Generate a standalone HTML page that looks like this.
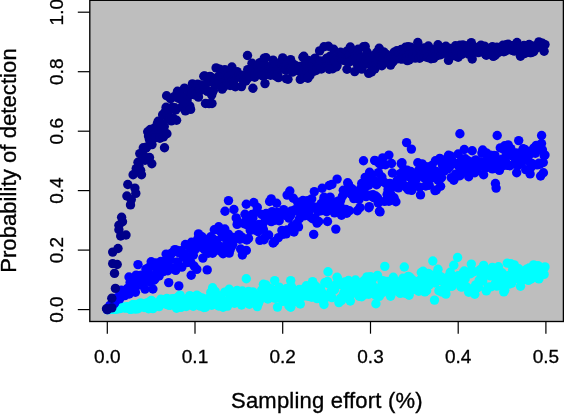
<!DOCTYPE html>
<html><head><meta charset="utf-8"><title>plot</title>
<style>
html,body{margin:0;padding:0;background:#fff;}
svg{display:block;font-family:"Liberation Sans",sans-serif;}
</style></head><body>
<svg width="564" height="414" viewBox="0 0 564 414">
<rect x="0" y="0" width="564" height="414" fill="#fff"/>
<rect x="89.8" y="0.3" width="473.6" height="321.2" fill="#bebebe"/>
<clipPath id="c"><rect x="89.8" y="0.3" width="473.6" height="321.2"/></clipPath>
<g clip-path="url(#c)">
<g fill="#00ffff">
<circle cx="107.3" cy="309.6" r="4.7"/>
<circle cx="108.2" cy="309.5" r="4.7"/>
<circle cx="109.1" cy="309.3" r="4.7"/>
<circle cx="109.9" cy="309.5" r="4.7"/>
<circle cx="110.8" cy="309.1" r="4.7"/>
<circle cx="111.7" cy="309.0" r="4.7"/>
<circle cx="112.6" cy="309.1" r="4.7"/>
<circle cx="113.4" cy="308.8" r="4.7"/>
<circle cx="114.3" cy="309.1" r="4.7"/>
<circle cx="115.2" cy="309.1" r="4.7"/>
<circle cx="116.1" cy="308.8" r="4.7"/>
<circle cx="116.9" cy="309.1" r="4.7"/>
<circle cx="117.8" cy="307.9" r="4.7"/>
<circle cx="118.7" cy="308.2" r="4.7"/>
<circle cx="119.6" cy="308.6" r="4.7"/>
<circle cx="120.5" cy="308.1" r="4.7"/>
<circle cx="121.3" cy="307.0" r="4.7"/>
<circle cx="122.2" cy="307.0" r="4.7"/>
<circle cx="123.1" cy="307.6" r="4.7"/>
<circle cx="124.0" cy="307.4" r="4.7"/>
<circle cx="124.8" cy="308.0" r="4.7"/>
<circle cx="125.7" cy="307.7" r="4.7"/>
<circle cx="126.6" cy="306.8" r="4.7"/>
<circle cx="127.5" cy="307.5" r="4.7"/>
<circle cx="128.4" cy="306.9" r="4.7"/>
<circle cx="129.2" cy="308.6" r="4.7"/>
<circle cx="130.1" cy="309.3" r="4.7"/>
<circle cx="131.0" cy="309.4" r="4.7"/>
<circle cx="131.9" cy="307.5" r="4.7"/>
<circle cx="132.7" cy="304.7" r="4.7"/>
<circle cx="133.6" cy="304.7" r="4.7"/>
<circle cx="134.5" cy="308.2" r="4.7"/>
<circle cx="135.4" cy="309.1" r="4.7"/>
<circle cx="136.2" cy="304.9" r="4.7"/>
<circle cx="137.1" cy="305.4" r="4.7"/>
<circle cx="138.0" cy="308.7" r="4.7"/>
<circle cx="138.9" cy="303.9" r="4.7"/>
<circle cx="139.8" cy="305.5" r="4.7"/>
<circle cx="140.6" cy="303.0" r="4.7"/>
<circle cx="141.5" cy="304.9" r="4.7"/>
<circle cx="142.4" cy="303.6" r="4.7"/>
<circle cx="143.3" cy="304.7" r="4.7"/>
<circle cx="144.1" cy="307.5" r="4.7"/>
<circle cx="145.0" cy="305.8" r="4.7"/>
<circle cx="145.9" cy="306.8" r="4.7"/>
<circle cx="146.8" cy="303.0" r="4.7"/>
<circle cx="147.7" cy="307.4" r="4.7"/>
<circle cx="148.5" cy="308.8" r="4.7"/>
<circle cx="149.4" cy="302.9" r="4.7"/>
<circle cx="150.3" cy="301.5" r="4.7"/>
<circle cx="151.2" cy="300.5" r="4.7"/>
<circle cx="152.0" cy="301.3" r="4.7"/>
<circle cx="152.9" cy="308.6" r="4.7"/>
<circle cx="153.8" cy="306.2" r="4.7"/>
<circle cx="154.7" cy="305.7" r="4.7"/>
<circle cx="155.5" cy="304.0" r="4.7"/>
<circle cx="156.4" cy="304.5" r="4.7"/>
<circle cx="157.3" cy="303.8" r="4.7"/>
<circle cx="158.2" cy="302.7" r="4.7"/>
<circle cx="159.1" cy="306.6" r="4.7"/>
<circle cx="159.9" cy="303.0" r="4.7"/>
<circle cx="160.8" cy="299.3" r="4.7"/>
<circle cx="161.7" cy="303.1" r="4.7"/>
<circle cx="162.6" cy="299.6" r="4.7"/>
<circle cx="163.4" cy="299.6" r="4.7"/>
<circle cx="164.3" cy="301.6" r="4.7"/>
<circle cx="165.2" cy="301.7" r="4.7"/>
<circle cx="166.1" cy="304.3" r="4.7"/>
<circle cx="166.9" cy="298.4" r="4.7"/>
<circle cx="167.8" cy="304.5" r="4.7"/>
<circle cx="168.7" cy="305.3" r="4.7"/>
<circle cx="169.6" cy="300.1" r="4.7"/>
<circle cx="170.5" cy="305.3" r="4.7"/>
<circle cx="171.3" cy="301.0" r="4.7"/>
<circle cx="172.2" cy="298.6" r="4.7"/>
<circle cx="173.1" cy="302.2" r="4.7"/>
<circle cx="174.0" cy="302.0" r="4.7"/>
<circle cx="174.8" cy="298.8" r="4.7"/>
<circle cx="175.7" cy="299.4" r="4.7"/>
<circle cx="176.6" cy="308.2" r="4.7"/>
<circle cx="177.5" cy="307.3" r="4.7"/>
<circle cx="178.4" cy="296.8" r="4.7"/>
<circle cx="179.2" cy="300.5" r="4.7"/>
<circle cx="180.1" cy="295.1" r="4.7"/>
<circle cx="181.0" cy="307.4" r="4.7"/>
<circle cx="181.9" cy="301.8" r="4.7"/>
<circle cx="182.7" cy="305.8" r="4.7"/>
<circle cx="183.6" cy="299.8" r="4.7"/>
<circle cx="184.5" cy="301.3" r="4.7"/>
<circle cx="185.4" cy="299.6" r="4.7"/>
<circle cx="186.2" cy="306.5" r="4.7"/>
<circle cx="187.1" cy="298.8" r="4.7"/>
<circle cx="188.0" cy="301.0" r="4.7"/>
<circle cx="188.9" cy="304.8" r="4.7"/>
<circle cx="189.8" cy="295.6" r="4.7"/>
<circle cx="190.6" cy="297.0" r="4.7"/>
<circle cx="191.5" cy="298.3" r="4.7"/>
<circle cx="192.4" cy="301.4" r="4.7"/>
<circle cx="193.3" cy="306.2" r="4.7"/>
<circle cx="194.1" cy="304.9" r="4.7"/>
<circle cx="195.0" cy="297.5" r="4.7"/>
<circle cx="195.9" cy="296.4" r="4.7"/>
<circle cx="196.8" cy="295.2" r="4.7"/>
<circle cx="197.7" cy="296.3" r="4.7"/>
<circle cx="198.5" cy="296.4" r="4.7"/>
<circle cx="199.4" cy="302.6" r="4.7"/>
<circle cx="200.3" cy="306.1" r="4.7"/>
<circle cx="201.2" cy="299.4" r="4.7"/>
<circle cx="202.0" cy="297.9" r="4.7"/>
<circle cx="202.9" cy="299.8" r="4.7"/>
<circle cx="203.8" cy="307.5" r="4.7"/>
<circle cx="204.7" cy="302.6" r="4.7"/>
<circle cx="205.5" cy="307.3" r="4.7"/>
<circle cx="206.4" cy="299.2" r="4.7"/>
<circle cx="207.3" cy="305.1" r="4.7"/>
<circle cx="208.2" cy="300.6" r="4.7"/>
<circle cx="209.1" cy="298.0" r="4.7"/>
<circle cx="209.9" cy="298.9" r="4.7"/>
<circle cx="210.8" cy="292.4" r="4.7"/>
<circle cx="211.7" cy="305.2" r="4.7"/>
<circle cx="212.6" cy="293.7" r="4.7"/>
<circle cx="213.4" cy="294.2" r="4.7"/>
<circle cx="214.3" cy="291.7" r="4.7"/>
<circle cx="215.2" cy="291.4" r="4.7"/>
<circle cx="216.1" cy="297.5" r="4.7"/>
<circle cx="216.9" cy="296.0" r="4.7"/>
<circle cx="217.8" cy="298.2" r="4.7"/>
<circle cx="218.7" cy="306.0" r="4.7"/>
<circle cx="219.6" cy="301.9" r="4.7"/>
<circle cx="220.5" cy="296.0" r="4.7"/>
<circle cx="221.3" cy="301.9" r="4.7"/>
<circle cx="222.2" cy="301.0" r="4.7"/>
<circle cx="223.1" cy="307.2" r="4.7"/>
<circle cx="224.0" cy="300.9" r="4.7"/>
<circle cx="224.8" cy="292.1" r="4.7"/>
<circle cx="225.7" cy="301.8" r="4.7"/>
<circle cx="226.6" cy="304.8" r="4.7"/>
<circle cx="227.5" cy="306.1" r="4.7"/>
<circle cx="228.4" cy="302.4" r="4.7"/>
<circle cx="229.2" cy="289.3" r="4.7"/>
<circle cx="230.1" cy="295.6" r="4.7"/>
<circle cx="231.0" cy="294.9" r="4.7"/>
<circle cx="231.9" cy="301.0" r="4.7"/>
<circle cx="232.7" cy="292.8" r="4.7"/>
<circle cx="233.6" cy="297.1" r="4.7"/>
<circle cx="234.5" cy="303.2" r="4.7"/>
<circle cx="235.4" cy="300.4" r="4.7"/>
<circle cx="236.2" cy="296.3" r="4.7"/>
<circle cx="237.1" cy="290.4" r="4.7"/>
<circle cx="238.0" cy="297.8" r="4.7"/>
<circle cx="238.9" cy="294.3" r="4.7"/>
<circle cx="239.8" cy="299.0" r="4.7"/>
<circle cx="240.6" cy="302.2" r="4.7"/>
<circle cx="241.5" cy="305.0" r="4.7"/>
<circle cx="242.4" cy="291.0" r="4.7"/>
<circle cx="243.3" cy="294.3" r="4.7"/>
<circle cx="244.1" cy="297.6" r="4.7"/>
<circle cx="245.0" cy="295.3" r="4.7"/>
<circle cx="245.9" cy="299.0" r="4.7"/>
<circle cx="246.8" cy="293.5" r="4.7"/>
<circle cx="247.7" cy="298.9" r="4.7"/>
<circle cx="248.5" cy="291.5" r="4.7"/>
<circle cx="249.4" cy="304.3" r="4.7"/>
<circle cx="250.3" cy="301.9" r="4.7"/>
<circle cx="251.2" cy="295.7" r="4.7"/>
<circle cx="252.0" cy="299.6" r="4.7"/>
<circle cx="252.9" cy="291.9" r="4.7"/>
<circle cx="253.8" cy="296.7" r="4.7"/>
<circle cx="254.7" cy="300.0" r="4.7"/>
<circle cx="255.5" cy="295.0" r="4.7"/>
<circle cx="256.4" cy="299.8" r="4.7"/>
<circle cx="257.3" cy="306.6" r="4.7"/>
<circle cx="258.2" cy="303.8" r="4.7"/>
<circle cx="259.1" cy="301.6" r="4.7"/>
<circle cx="259.9" cy="299.4" r="4.7"/>
<circle cx="260.8" cy="295.6" r="4.7"/>
<circle cx="261.7" cy="290.1" r="4.7"/>
<circle cx="262.6" cy="292.5" r="4.7"/>
<circle cx="263.4" cy="284.3" r="4.7"/>
<circle cx="264.3" cy="287.6" r="4.7"/>
<circle cx="265.2" cy="297.3" r="4.7"/>
<circle cx="266.1" cy="285.0" r="4.7"/>
<circle cx="267.0" cy="288.1" r="4.7"/>
<circle cx="267.8" cy="299.0" r="4.7"/>
<circle cx="268.7" cy="293.9" r="4.7"/>
<circle cx="269.6" cy="288.6" r="4.7"/>
<circle cx="270.5" cy="294.3" r="4.7"/>
<circle cx="271.3" cy="289.0" r="4.7"/>
<circle cx="272.2" cy="293.2" r="4.7"/>
<circle cx="273.1" cy="291.1" r="4.7"/>
<circle cx="274.0" cy="297.9" r="4.7"/>
<circle cx="274.8" cy="293.2" r="4.7"/>
<circle cx="275.7" cy="298.2" r="4.7"/>
<circle cx="276.6" cy="291.1" r="4.7"/>
<circle cx="277.5" cy="307.1" r="4.7"/>
<circle cx="278.4" cy="293.4" r="4.7"/>
<circle cx="279.2" cy="287.1" r="4.7"/>
<circle cx="280.1" cy="291.7" r="4.7"/>
<circle cx="281.0" cy="295.7" r="4.7"/>
<circle cx="281.9" cy="291.9" r="4.7"/>
<circle cx="282.7" cy="301.3" r="4.7"/>
<circle cx="283.6" cy="301.1" r="4.7"/>
<circle cx="284.5" cy="297.8" r="4.7"/>
<circle cx="285.4" cy="296.3" r="4.7"/>
<circle cx="286.2" cy="288.7" r="4.7"/>
<circle cx="287.1" cy="301.3" r="4.7"/>
<circle cx="288.0" cy="288.3" r="4.7"/>
<circle cx="288.9" cy="305.7" r="4.7"/>
<circle cx="289.8" cy="300.3" r="4.7"/>
<circle cx="290.6" cy="295.1" r="4.7"/>
<circle cx="291.5" cy="286.9" r="4.7"/>
<circle cx="292.4" cy="298.8" r="4.7"/>
<circle cx="293.3" cy="295.4" r="4.7"/>
<circle cx="294.1" cy="291.6" r="4.7"/>
<circle cx="295.0" cy="294.6" r="4.7"/>
<circle cx="295.9" cy="301.7" r="4.7"/>
<circle cx="296.8" cy="301.3" r="4.7"/>
<circle cx="297.7" cy="298.9" r="4.7"/>
<circle cx="298.5" cy="293.4" r="4.7"/>
<circle cx="299.4" cy="289.4" r="4.7"/>
<circle cx="300.3" cy="304.0" r="4.7"/>
<circle cx="301.2" cy="292.7" r="4.7"/>
<circle cx="302.0" cy="294.0" r="4.7"/>
<circle cx="302.9" cy="296.2" r="4.7"/>
<circle cx="303.8" cy="288.9" r="4.7"/>
<circle cx="304.7" cy="292.7" r="4.7"/>
<circle cx="305.5" cy="295.8" r="4.7"/>
<circle cx="306.4" cy="285.7" r="4.7"/>
<circle cx="307.3" cy="295.7" r="4.7"/>
<circle cx="308.2" cy="295.8" r="4.7"/>
<circle cx="309.1" cy="296.4" r="4.7"/>
<circle cx="309.9" cy="295.2" r="4.7"/>
<circle cx="310.8" cy="288.2" r="4.7"/>
<circle cx="311.7" cy="297.2" r="4.7"/>
<circle cx="312.6" cy="281.6" r="4.7"/>
<circle cx="313.4" cy="293.1" r="4.7"/>
<circle cx="314.3" cy="293.5" r="4.7"/>
<circle cx="315.2" cy="285.8" r="4.7"/>
<circle cx="316.1" cy="292.3" r="4.7"/>
<circle cx="317.0" cy="298.6" r="4.7"/>
<circle cx="317.8" cy="288.0" r="4.7"/>
<circle cx="318.7" cy="291.9" r="4.7"/>
<circle cx="319.6" cy="292.0" r="4.7"/>
<circle cx="320.5" cy="289.1" r="4.7"/>
<circle cx="321.3" cy="295.9" r="4.7"/>
<circle cx="322.2" cy="292.9" r="4.7"/>
<circle cx="323.1" cy="301.0" r="4.7"/>
<circle cx="324.0" cy="304.5" r="4.7"/>
<circle cx="324.8" cy="282.7" r="4.7"/>
<circle cx="325.7" cy="297.8" r="4.7"/>
<circle cx="326.6" cy="296.2" r="4.7"/>
<circle cx="327.5" cy="281.5" r="4.7"/>
<circle cx="328.4" cy="283.7" r="4.7"/>
<circle cx="329.2" cy="294.7" r="4.7"/>
<circle cx="330.1" cy="294.7" r="4.7"/>
<circle cx="331.0" cy="291.5" r="4.7"/>
<circle cx="331.9" cy="297.6" r="4.7"/>
<circle cx="332.7" cy="286.9" r="4.7"/>
<circle cx="333.6" cy="289.7" r="4.7"/>
<circle cx="334.5" cy="289.7" r="4.7"/>
<circle cx="335.4" cy="285.2" r="4.7"/>
<circle cx="336.2" cy="285.4" r="4.7"/>
<circle cx="337.1" cy="277.3" r="4.7"/>
<circle cx="338.0" cy="279.5" r="4.7"/>
<circle cx="338.9" cy="302.6" r="4.7"/>
<circle cx="339.8" cy="283.8" r="4.7"/>
<circle cx="340.6" cy="298.2" r="4.7"/>
<circle cx="341.5" cy="300.4" r="4.7"/>
<circle cx="342.4" cy="284.9" r="4.7"/>
<circle cx="343.3" cy="295.1" r="4.7"/>
<circle cx="344.1" cy="292.2" r="4.7"/>
<circle cx="345.0" cy="282.0" r="4.7"/>
<circle cx="345.9" cy="294.6" r="4.7"/>
<circle cx="346.8" cy="296.3" r="4.7"/>
<circle cx="347.7" cy="287.2" r="4.7"/>
<circle cx="348.5" cy="280.5" r="4.7"/>
<circle cx="349.4" cy="285.6" r="4.7"/>
<circle cx="350.3" cy="301.0" r="4.7"/>
<circle cx="351.2" cy="294.2" r="4.7"/>
<circle cx="352.0" cy="290.4" r="4.7"/>
<circle cx="352.9" cy="284.3" r="4.7"/>
<circle cx="353.8" cy="282.5" r="4.7"/>
<circle cx="354.7" cy="282.7" r="4.7"/>
<circle cx="355.5" cy="280.0" r="4.7"/>
<circle cx="356.4" cy="291.3" r="4.7"/>
<circle cx="357.3" cy="285.3" r="4.7"/>
<circle cx="358.2" cy="285.1" r="4.7"/>
<circle cx="359.1" cy="296.2" r="4.7"/>
<circle cx="359.9" cy="288.8" r="4.7"/>
<circle cx="360.8" cy="284.3" r="4.7"/>
<circle cx="361.7" cy="296.8" r="4.7"/>
<circle cx="362.6" cy="282.3" r="4.7"/>
<circle cx="363.4" cy="282.6" r="4.7"/>
<circle cx="364.3" cy="280.4" r="4.7"/>
<circle cx="365.2" cy="294.3" r="4.7"/>
<circle cx="366.1" cy="287.4" r="4.7"/>
<circle cx="367.0" cy="276.9" r="4.7"/>
<circle cx="367.8" cy="281.9" r="4.7"/>
<circle cx="368.7" cy="294.2" r="4.7"/>
<circle cx="369.6" cy="286.2" r="4.7"/>
<circle cx="370.5" cy="276.7" r="4.7"/>
<circle cx="371.3" cy="288.4" r="4.7"/>
<circle cx="372.2" cy="284.7" r="4.7"/>
<circle cx="373.1" cy="278.2" r="4.7"/>
<circle cx="374.0" cy="287.8" r="4.7"/>
<circle cx="374.8" cy="288.3" r="4.7"/>
<circle cx="375.7" cy="295.3" r="4.7"/>
<circle cx="376.6" cy="292.5" r="4.7"/>
<circle cx="377.5" cy="275.4" r="4.7"/>
<circle cx="378.4" cy="288.2" r="4.7"/>
<circle cx="379.2" cy="296.4" r="4.7"/>
<circle cx="380.1" cy="294.3" r="4.7"/>
<circle cx="381.0" cy="286.8" r="4.7"/>
<circle cx="381.9" cy="280.7" r="4.7"/>
<circle cx="382.7" cy="292.5" r="4.7"/>
<circle cx="383.6" cy="280.9" r="4.7"/>
<circle cx="384.5" cy="290.3" r="4.7"/>
<circle cx="385.4" cy="283.6" r="4.7"/>
<circle cx="386.2" cy="282.2" r="4.7"/>
<circle cx="387.1" cy="281.4" r="4.7"/>
<circle cx="388.0" cy="289.6" r="4.7"/>
<circle cx="388.9" cy="287.4" r="4.7"/>
<circle cx="389.8" cy="281.9" r="4.7"/>
<circle cx="390.6" cy="296.2" r="4.7"/>
<circle cx="391.5" cy="284.4" r="4.7"/>
<circle cx="392.4" cy="281.6" r="4.7"/>
<circle cx="393.3" cy="277.3" r="4.7"/>
<circle cx="394.1" cy="285.9" r="4.7"/>
<circle cx="395.0" cy="287.0" r="4.7"/>
<circle cx="395.9" cy="284.3" r="4.7"/>
<circle cx="396.8" cy="291.2" r="4.7"/>
<circle cx="397.7" cy="286.9" r="4.7"/>
<circle cx="398.5" cy="281.9" r="4.7"/>
<circle cx="399.4" cy="282.8" r="4.7"/>
<circle cx="400.3" cy="293.4" r="4.7"/>
<circle cx="401.2" cy="287.6" r="4.7"/>
<circle cx="402.0" cy="283.7" r="4.7"/>
<circle cx="402.9" cy="278.3" r="4.7"/>
<circle cx="403.8" cy="289.0" r="4.7"/>
<circle cx="404.7" cy="282.7" r="4.7"/>
<circle cx="405.5" cy="293.4" r="4.7"/>
<circle cx="406.4" cy="285.1" r="4.7"/>
<circle cx="407.3" cy="280.8" r="4.7"/>
<circle cx="408.2" cy="276.4" r="4.7"/>
<circle cx="409.1" cy="295.2" r="4.7"/>
<circle cx="409.9" cy="277.3" r="4.7"/>
<circle cx="410.8" cy="285.4" r="4.7"/>
<circle cx="411.7" cy="290.2" r="4.7"/>
<circle cx="412.6" cy="280.0" r="4.7"/>
<circle cx="413.4" cy="286.2" r="4.7"/>
<circle cx="414.3" cy="286.1" r="4.7"/>
<circle cx="415.2" cy="289.3" r="4.7"/>
<circle cx="416.1" cy="281.7" r="4.7"/>
<circle cx="417.0" cy="283.2" r="4.7"/>
<circle cx="417.8" cy="284.8" r="4.7"/>
<circle cx="418.7" cy="291.2" r="4.7"/>
<circle cx="419.6" cy="287.5" r="4.7"/>
<circle cx="420.5" cy="279.8" r="4.7"/>
<circle cx="421.3" cy="272.5" r="4.7"/>
<circle cx="422.2" cy="283.2" r="4.7"/>
<circle cx="423.1" cy="271.2" r="4.7"/>
<circle cx="424.0" cy="282.9" r="4.7"/>
<circle cx="424.8" cy="291.9" r="4.7"/>
<circle cx="425.7" cy="277.4" r="4.7"/>
<circle cx="426.6" cy="290.7" r="4.7"/>
<circle cx="427.5" cy="279.2" r="4.7"/>
<circle cx="428.4" cy="273.4" r="4.7"/>
<circle cx="429.2" cy="285.0" r="4.7"/>
<circle cx="430.1" cy="283.0" r="4.7"/>
<circle cx="431.0" cy="276.3" r="4.7"/>
<circle cx="431.9" cy="280.1" r="4.7"/>
<circle cx="432.7" cy="279.8" r="4.7"/>
<circle cx="433.6" cy="275.3" r="4.7"/>
<circle cx="434.5" cy="282.7" r="4.7"/>
<circle cx="435.4" cy="282.6" r="4.7"/>
<circle cx="436.3" cy="278.5" r="4.7"/>
<circle cx="437.1" cy="273.4" r="4.7"/>
<circle cx="438.0" cy="269.3" r="4.7"/>
<circle cx="438.9" cy="290.7" r="4.7"/>
<circle cx="439.8" cy="290.8" r="4.7"/>
<circle cx="440.6" cy="276.6" r="4.7"/>
<circle cx="441.5" cy="281.0" r="4.7"/>
<circle cx="442.4" cy="292.1" r="4.7"/>
<circle cx="443.3" cy="279.2" r="4.7"/>
<circle cx="444.1" cy="291.0" r="4.7"/>
<circle cx="445.0" cy="287.0" r="4.7"/>
<circle cx="445.9" cy="294.1" r="4.7"/>
<circle cx="446.8" cy="288.1" r="4.7"/>
<circle cx="447.7" cy="277.2" r="4.7"/>
<circle cx="448.5" cy="279.5" r="4.7"/>
<circle cx="449.4" cy="277.8" r="4.7"/>
<circle cx="450.3" cy="272.2" r="4.7"/>
<circle cx="451.2" cy="280.7" r="4.7"/>
<circle cx="452.0" cy="286.2" r="4.7"/>
<circle cx="452.9" cy="282.7" r="4.7"/>
<circle cx="453.8" cy="265.3" r="4.7"/>
<circle cx="454.7" cy="279.7" r="4.7"/>
<circle cx="455.5" cy="277.1" r="4.7"/>
<circle cx="456.4" cy="280.8" r="4.7"/>
<circle cx="457.3" cy="277.6" r="4.7"/>
<circle cx="458.2" cy="275.8" r="4.7"/>
<circle cx="459.1" cy="279.7" r="4.7"/>
<circle cx="459.9" cy="281.0" r="4.7"/>
<circle cx="460.8" cy="286.6" r="4.7"/>
<circle cx="461.7" cy="287.1" r="4.7"/>
<circle cx="462.6" cy="275.8" r="4.7"/>
<circle cx="463.4" cy="272.6" r="4.7"/>
<circle cx="464.3" cy="271.0" r="4.7"/>
<circle cx="465.2" cy="278.7" r="4.7"/>
<circle cx="466.1" cy="286.5" r="4.7"/>
<circle cx="467.0" cy="273.5" r="4.7"/>
<circle cx="467.8" cy="273.6" r="4.7"/>
<circle cx="468.7" cy="292.3" r="4.7"/>
<circle cx="469.6" cy="271.8" r="4.7"/>
<circle cx="470.5" cy="273.7" r="4.7"/>
<circle cx="471.3" cy="264.1" r="4.7"/>
<circle cx="472.2" cy="288.7" r="4.7"/>
<circle cx="473.1" cy="289.9" r="4.7"/>
<circle cx="474.0" cy="271.7" r="4.7"/>
<circle cx="474.8" cy="294.3" r="4.7"/>
<circle cx="475.7" cy="284.9" r="4.7"/>
<circle cx="476.6" cy="287.9" r="4.7"/>
<circle cx="477.5" cy="287.2" r="4.7"/>
<circle cx="478.4" cy="287.2" r="4.7"/>
<circle cx="479.2" cy="280.3" r="4.7"/>
<circle cx="480.1" cy="269.7" r="4.7"/>
<circle cx="481.0" cy="274.2" r="4.7"/>
<circle cx="481.9" cy="274.2" r="4.7"/>
<circle cx="482.7" cy="281.0" r="4.7"/>
<circle cx="483.6" cy="265.4" r="4.7"/>
<circle cx="484.5" cy="273.3" r="4.7"/>
<circle cx="485.4" cy="268.7" r="4.7"/>
<circle cx="486.3" cy="290.9" r="4.7"/>
<circle cx="487.1" cy="274.7" r="4.7"/>
<circle cx="488.0" cy="287.3" r="4.7"/>
<circle cx="488.9" cy="274.5" r="4.7"/>
<circle cx="489.8" cy="275.7" r="4.7"/>
<circle cx="490.6" cy="286.9" r="4.7"/>
<circle cx="491.5" cy="275.8" r="4.7"/>
<circle cx="492.4" cy="267.4" r="4.7"/>
<circle cx="493.3" cy="272.9" r="4.7"/>
<circle cx="494.1" cy="272.1" r="4.7"/>
<circle cx="495.0" cy="284.2" r="4.7"/>
<circle cx="495.9" cy="282.6" r="4.7"/>
<circle cx="496.8" cy="286.1" r="4.7"/>
<circle cx="497.7" cy="275.7" r="4.7"/>
<circle cx="498.5" cy="266.8" r="4.7"/>
<circle cx="499.4" cy="273.0" r="4.7"/>
<circle cx="500.3" cy="276.6" r="4.7"/>
<circle cx="501.2" cy="285.8" r="4.7"/>
<circle cx="502.0" cy="272.8" r="4.7"/>
<circle cx="502.9" cy="278.4" r="4.7"/>
<circle cx="503.8" cy="291.9" r="4.7"/>
<circle cx="504.7" cy="290.3" r="4.7"/>
<circle cx="505.5" cy="279.0" r="4.7"/>
<circle cx="506.4" cy="283.3" r="4.7"/>
<circle cx="507.3" cy="263.1" r="4.7"/>
<circle cx="508.2" cy="275.8" r="4.7"/>
<circle cx="509.1" cy="284.1" r="4.7"/>
<circle cx="509.9" cy="279.8" r="4.7"/>
<circle cx="510.8" cy="263.8" r="4.7"/>
<circle cx="511.7" cy="283.1" r="4.7"/>
<circle cx="512.6" cy="270.1" r="4.7"/>
<circle cx="513.4" cy="272.6" r="4.7"/>
<circle cx="514.3" cy="264.9" r="4.7"/>
<circle cx="515.2" cy="271.9" r="4.7"/>
<circle cx="516.1" cy="278.6" r="4.7"/>
<circle cx="517.0" cy="271.9" r="4.7"/>
<circle cx="517.8" cy="275.1" r="4.7"/>
<circle cx="518.7" cy="268.7" r="4.7"/>
<circle cx="519.6" cy="275.9" r="4.7"/>
<circle cx="520.5" cy="286.2" r="4.7"/>
<circle cx="521.3" cy="276.1" r="4.7"/>
<circle cx="522.2" cy="272.4" r="4.7"/>
<circle cx="523.1" cy="279.8" r="4.7"/>
<circle cx="524.0" cy="274.4" r="4.7"/>
<circle cx="524.8" cy="275.0" r="4.7"/>
<circle cx="525.7" cy="274.1" r="4.7"/>
<circle cx="526.6" cy="269.3" r="4.7"/>
<circle cx="527.5" cy="278.5" r="4.7"/>
<circle cx="528.4" cy="280.4" r="4.7"/>
<circle cx="529.2" cy="268.0" r="4.7"/>
<circle cx="530.1" cy="276.7" r="4.7"/>
<circle cx="531.0" cy="279.0" r="4.7"/>
<circle cx="531.9" cy="267.8" r="4.7"/>
<circle cx="532.7" cy="270.1" r="4.7"/>
<circle cx="533.6" cy="264.9" r="4.7"/>
<circle cx="534.5" cy="277.0" r="4.7"/>
<circle cx="535.4" cy="270.0" r="4.7"/>
<circle cx="536.3" cy="269.7" r="4.7"/>
<circle cx="537.1" cy="277.5" r="4.7"/>
<circle cx="538.0" cy="265.6" r="4.7"/>
<circle cx="538.9" cy="278.9" r="4.7"/>
<circle cx="539.8" cy="275.7" r="4.7"/>
<circle cx="540.6" cy="273.7" r="4.7"/>
<circle cx="541.5" cy="274.4" r="4.7"/>
<circle cx="542.4" cy="269.9" r="4.7"/>
<circle cx="543.3" cy="268.8" r="4.7"/>
<circle cx="544.1" cy="274.4" r="4.7"/>
<circle cx="545.0" cy="266.9" r="4.7"/>
<circle cx="246.3" cy="278.8" r="4.7"/>
<circle cx="274.7" cy="280.6" r="4.7"/>
<circle cx="212.6" cy="287.7" r="4.7"/>
<circle cx="457.6" cy="257.5" r="4.7"/>
<circle cx="432.8" cy="261.0" r="4.7"/>
<circle cx="384.8" cy="266.4" r="4.7"/>
<circle cx="404.3" cy="267.0" r="4.7"/>
<circle cx="328.0" cy="271.7" r="4.7"/>
<circle cx="290.7" cy="280.6" r="4.7"/>
<circle cx="290.7" cy="307.2" r="4.7"/>
<circle cx="434.5" cy="300.1" r="4.7"/>
<circle cx="375.9" cy="303.7" r="4.7"/>
</g>
<g fill="#0000ff">
<circle cx="107.3" cy="309.6" r="4.7"/>
<circle cx="108.2" cy="308.6" r="4.7"/>
<circle cx="109.1" cy="307.4" r="4.7"/>
<circle cx="109.9" cy="305.4" r="4.7"/>
<circle cx="110.8" cy="305.9" r="4.7"/>
<circle cx="111.7" cy="304.5" r="4.7"/>
<circle cx="112.6" cy="303.8" r="4.7"/>
<circle cx="113.4" cy="301.7" r="4.7"/>
<circle cx="114.3" cy="303.6" r="4.7"/>
<circle cx="115.2" cy="302.0" r="4.7"/>
<circle cx="116.1" cy="299.9" r="4.7"/>
<circle cx="116.9" cy="297.8" r="4.7"/>
<circle cx="117.8" cy="298.2" r="4.7"/>
<circle cx="118.7" cy="298.6" r="4.7"/>
<circle cx="119.6" cy="298.9" r="4.7"/>
<circle cx="120.5" cy="294.0" r="4.7"/>
<circle cx="121.3" cy="290.1" r="4.7"/>
<circle cx="122.2" cy="292.9" r="4.7"/>
<circle cx="123.1" cy="292.5" r="4.7"/>
<circle cx="124.0" cy="290.8" r="4.7"/>
<circle cx="124.8" cy="295.6" r="4.7"/>
<circle cx="125.7" cy="292.3" r="4.7"/>
<circle cx="126.6" cy="291.5" r="4.7"/>
<circle cx="127.5" cy="288.4" r="4.7"/>
<circle cx="128.4" cy="289.2" r="4.7"/>
<circle cx="129.2" cy="294.0" r="4.7"/>
<circle cx="130.1" cy="282.6" r="4.7"/>
<circle cx="131.0" cy="279.2" r="4.7"/>
<circle cx="131.9" cy="287.9" r="4.7"/>
<circle cx="132.7" cy="284.1" r="4.7"/>
<circle cx="133.6" cy="284.1" r="4.7"/>
<circle cx="134.5" cy="280.9" r="4.7"/>
<circle cx="135.4" cy="292.2" r="4.7"/>
<circle cx="136.2" cy="275.1" r="4.7"/>
<circle cx="137.1" cy="285.8" r="4.7"/>
<circle cx="138.0" cy="275.6" r="4.7"/>
<circle cx="138.9" cy="281.7" r="4.7"/>
<circle cx="139.8" cy="283.8" r="4.7"/>
<circle cx="140.6" cy="281.8" r="4.7"/>
<circle cx="141.5" cy="275.1" r="4.7"/>
<circle cx="142.4" cy="285.1" r="4.7"/>
<circle cx="143.3" cy="281.6" r="4.7"/>
<circle cx="144.1" cy="281.7" r="4.7"/>
<circle cx="145.0" cy="289.1" r="4.7"/>
<circle cx="145.9" cy="269.1" r="4.7"/>
<circle cx="146.8" cy="273.1" r="4.7"/>
<circle cx="147.7" cy="276.5" r="4.7"/>
<circle cx="148.5" cy="267.8" r="4.7"/>
<circle cx="149.4" cy="281.7" r="4.7"/>
<circle cx="150.3" cy="275.0" r="4.7"/>
<circle cx="151.2" cy="261.7" r="4.7"/>
<circle cx="152.0" cy="266.3" r="4.7"/>
<circle cx="152.9" cy="289.0" r="4.7"/>
<circle cx="153.8" cy="280.2" r="4.7"/>
<circle cx="154.7" cy="279.4" r="4.7"/>
<circle cx="155.5" cy="263.0" r="4.7"/>
<circle cx="156.4" cy="274.2" r="4.7"/>
<circle cx="157.3" cy="271.7" r="4.7"/>
<circle cx="158.2" cy="264.7" r="4.7"/>
<circle cx="159.1" cy="276.0" r="4.7"/>
<circle cx="159.9" cy="266.7" r="4.7"/>
<circle cx="160.8" cy="261.5" r="4.7"/>
<circle cx="161.7" cy="263.7" r="4.7"/>
<circle cx="162.6" cy="263.7" r="4.7"/>
<circle cx="163.4" cy="271.6" r="4.7"/>
<circle cx="164.3" cy="261.8" r="4.7"/>
<circle cx="165.2" cy="269.2" r="4.7"/>
<circle cx="166.1" cy="254.1" r="4.7"/>
<circle cx="166.9" cy="266.8" r="4.7"/>
<circle cx="167.8" cy="270.7" r="4.7"/>
<circle cx="168.7" cy="282.6" r="4.7"/>
<circle cx="169.6" cy="267.1" r="4.7"/>
<circle cx="170.5" cy="259.7" r="4.7"/>
<circle cx="171.3" cy="253.4" r="4.7"/>
<circle cx="172.2" cy="252.7" r="4.7"/>
<circle cx="173.1" cy="268.7" r="4.7"/>
<circle cx="174.0" cy="268.5" r="4.7"/>
<circle cx="174.8" cy="249.6" r="4.7"/>
<circle cx="175.7" cy="270.4" r="4.7"/>
<circle cx="176.6" cy="250.3" r="4.7"/>
<circle cx="177.5" cy="261.9" r="4.7"/>
<circle cx="178.4" cy="252.4" r="4.7"/>
<circle cx="179.2" cy="252.5" r="4.7"/>
<circle cx="180.1" cy="251.4" r="4.7"/>
<circle cx="181.0" cy="250.6" r="4.7"/>
<circle cx="181.9" cy="267.1" r="4.7"/>
<circle cx="182.7" cy="254.7" r="4.7"/>
<circle cx="183.6" cy="257.0" r="4.7"/>
<circle cx="184.5" cy="253.8" r="4.7"/>
<circle cx="185.4" cy="244.5" r="4.7"/>
<circle cx="186.2" cy="258.6" r="4.7"/>
<circle cx="187.1" cy="262.5" r="4.7"/>
<circle cx="188.0" cy="262.3" r="4.7"/>
<circle cx="188.9" cy="257.9" r="4.7"/>
<circle cx="189.8" cy="247.1" r="4.7"/>
<circle cx="190.6" cy="262.1" r="4.7"/>
<circle cx="191.5" cy="242.2" r="4.7"/>
<circle cx="192.4" cy="250.4" r="4.7"/>
<circle cx="193.3" cy="255.2" r="4.7"/>
<circle cx="194.1" cy="266.0" r="4.7"/>
<circle cx="195.0" cy="249.7" r="4.7"/>
<circle cx="195.9" cy="244.8" r="4.7"/>
<circle cx="196.8" cy="269.4" r="4.7"/>
<circle cx="197.7" cy="239.0" r="4.7"/>
<circle cx="198.5" cy="233.9" r="4.7"/>
<circle cx="199.4" cy="246.9" r="4.7"/>
<circle cx="200.3" cy="245.0" r="4.7"/>
<circle cx="201.2" cy="246.7" r="4.7"/>
<circle cx="202.0" cy="236.7" r="4.7"/>
<circle cx="202.9" cy="258.1" r="4.7"/>
<circle cx="203.8" cy="248.7" r="4.7"/>
<circle cx="204.7" cy="249.8" r="4.7"/>
<circle cx="205.5" cy="249.4" r="4.7"/>
<circle cx="206.4" cy="241.5" r="4.7"/>
<circle cx="207.3" cy="239.4" r="4.7"/>
<circle cx="208.2" cy="253.3" r="4.7"/>
<circle cx="209.1" cy="244.7" r="4.7"/>
<circle cx="209.9" cy="247.5" r="4.7"/>
<circle cx="210.8" cy="236.7" r="4.7"/>
<circle cx="211.7" cy="248.4" r="4.7"/>
<circle cx="212.6" cy="253.2" r="4.7"/>
<circle cx="213.4" cy="239.2" r="4.7"/>
<circle cx="214.3" cy="229.8" r="4.7"/>
<circle cx="215.2" cy="247.3" r="4.7"/>
<circle cx="216.1" cy="229.5" r="4.7"/>
<circle cx="216.9" cy="240.6" r="4.7"/>
<circle cx="217.8" cy="248.5" r="4.7"/>
<circle cx="218.7" cy="226.8" r="4.7"/>
<circle cx="219.6" cy="250.8" r="4.7"/>
<circle cx="220.5" cy="231.4" r="4.7"/>
<circle cx="221.3" cy="246.8" r="4.7"/>
<circle cx="222.2" cy="236.5" r="4.7"/>
<circle cx="223.1" cy="253.8" r="4.7"/>
<circle cx="224.0" cy="249.3" r="4.7"/>
<circle cx="224.8" cy="229.0" r="4.7"/>
<circle cx="225.7" cy="237.9" r="4.7"/>
<circle cx="226.6" cy="239.1" r="4.7"/>
<circle cx="227.5" cy="243.7" r="4.7"/>
<circle cx="228.4" cy="234.1" r="4.7"/>
<circle cx="229.2" cy="253.1" r="4.7"/>
<circle cx="230.1" cy="249.8" r="4.7"/>
<circle cx="231.0" cy="239.4" r="4.7"/>
<circle cx="231.9" cy="246.1" r="4.7"/>
<circle cx="232.7" cy="244.3" r="4.7"/>
<circle cx="233.6" cy="237.4" r="4.7"/>
<circle cx="234.5" cy="237.7" r="4.7"/>
<circle cx="235.4" cy="238.2" r="4.7"/>
<circle cx="236.2" cy="217.9" r="4.7"/>
<circle cx="237.1" cy="224.4" r="4.7"/>
<circle cx="238.0" cy="221.7" r="4.7"/>
<circle cx="238.9" cy="234.6" r="4.7"/>
<circle cx="239.8" cy="239.3" r="4.7"/>
<circle cx="240.6" cy="249.0" r="4.7"/>
<circle cx="241.5" cy="236.9" r="4.7"/>
<circle cx="242.4" cy="255.0" r="4.7"/>
<circle cx="243.3" cy="238.6" r="4.7"/>
<circle cx="244.1" cy="223.8" r="4.7"/>
<circle cx="245.0" cy="214.3" r="4.7"/>
<circle cx="245.9" cy="220.9" r="4.7"/>
<circle cx="246.8" cy="240.0" r="4.7"/>
<circle cx="247.7" cy="225.1" r="4.7"/>
<circle cx="248.5" cy="238.4" r="4.7"/>
<circle cx="249.4" cy="220.8" r="4.7"/>
<circle cx="250.3" cy="230.4" r="4.7"/>
<circle cx="251.2" cy="219.6" r="4.7"/>
<circle cx="252.0" cy="214.5" r="4.7"/>
<circle cx="252.9" cy="218.1" r="4.7"/>
<circle cx="253.8" cy="202.5" r="4.7"/>
<circle cx="254.7" cy="225.3" r="4.7"/>
<circle cx="255.5" cy="230.3" r="4.7"/>
<circle cx="256.4" cy="212.0" r="4.7"/>
<circle cx="257.3" cy="207.4" r="4.7"/>
<circle cx="258.2" cy="231.6" r="4.7"/>
<circle cx="259.1" cy="224.4" r="4.7"/>
<circle cx="259.9" cy="240.4" r="4.7"/>
<circle cx="260.8" cy="226.6" r="4.7"/>
<circle cx="261.7" cy="214.4" r="4.7"/>
<circle cx="262.6" cy="224.6" r="4.7"/>
<circle cx="263.4" cy="229.5" r="4.7"/>
<circle cx="264.3" cy="238.2" r="4.7"/>
<circle cx="265.2" cy="218.5" r="4.7"/>
<circle cx="266.1" cy="213.5" r="4.7"/>
<circle cx="267.0" cy="215.3" r="4.7"/>
<circle cx="267.8" cy="218.7" r="4.7"/>
<circle cx="268.7" cy="235.0" r="4.7"/>
<circle cx="269.6" cy="201.5" r="4.7"/>
<circle cx="270.5" cy="221.0" r="4.7"/>
<circle cx="271.3" cy="221.6" r="4.7"/>
<circle cx="272.2" cy="211.6" r="4.7"/>
<circle cx="273.1" cy="243.0" r="4.7"/>
<circle cx="274.0" cy="219.7" r="4.7"/>
<circle cx="274.8" cy="220.2" r="4.7"/>
<circle cx="275.7" cy="214.3" r="4.7"/>
<circle cx="276.6" cy="203.2" r="4.7"/>
<circle cx="277.5" cy="212.5" r="4.7"/>
<circle cx="278.4" cy="237.6" r="4.7"/>
<circle cx="279.2" cy="220.8" r="4.7"/>
<circle cx="280.1" cy="214.5" r="4.7"/>
<circle cx="281.0" cy="214.9" r="4.7"/>
<circle cx="281.9" cy="230.4" r="4.7"/>
<circle cx="282.7" cy="234.4" r="4.7"/>
<circle cx="283.6" cy="209.6" r="4.7"/>
<circle cx="284.5" cy="211.6" r="4.7"/>
<circle cx="285.4" cy="215.4" r="4.7"/>
<circle cx="286.2" cy="233.9" r="4.7"/>
<circle cx="287.1" cy="195.1" r="4.7"/>
<circle cx="288.0" cy="213.8" r="4.7"/>
<circle cx="288.9" cy="218.1" r="4.7"/>
<circle cx="289.8" cy="191.0" r="4.7"/>
<circle cx="290.6" cy="215.4" r="4.7"/>
<circle cx="291.5" cy="210.9" r="4.7"/>
<circle cx="292.4" cy="226.0" r="4.7"/>
<circle cx="293.3" cy="198.2" r="4.7"/>
<circle cx="294.1" cy="226.8" r="4.7"/>
<circle cx="295.0" cy="209.7" r="4.7"/>
<circle cx="295.9" cy="210.8" r="4.7"/>
<circle cx="296.8" cy="223.4" r="4.7"/>
<circle cx="297.7" cy="202.2" r="4.7"/>
<circle cx="298.5" cy="226.9" r="4.7"/>
<circle cx="299.4" cy="218.7" r="4.7"/>
<circle cx="300.3" cy="211.4" r="4.7"/>
<circle cx="301.2" cy="215.3" r="4.7"/>
<circle cx="302.0" cy="205.6" r="4.7"/>
<circle cx="302.9" cy="200.5" r="4.7"/>
<circle cx="303.8" cy="213.4" r="4.7"/>
<circle cx="304.7" cy="215.8" r="4.7"/>
<circle cx="305.5" cy="215.3" r="4.7"/>
<circle cx="306.4" cy="213.4" r="4.7"/>
<circle cx="307.3" cy="200.7" r="4.7"/>
<circle cx="308.2" cy="211.3" r="4.7"/>
<circle cx="309.1" cy="204.5" r="4.7"/>
<circle cx="309.9" cy="209.5" r="4.7"/>
<circle cx="310.8" cy="217.2" r="4.7"/>
<circle cx="311.7" cy="198.9" r="4.7"/>
<circle cx="312.6" cy="218.8" r="4.7"/>
<circle cx="313.4" cy="207.5" r="4.7"/>
<circle cx="314.3" cy="191.6" r="4.7"/>
<circle cx="315.2" cy="218.5" r="4.7"/>
<circle cx="316.1" cy="207.3" r="4.7"/>
<circle cx="317.0" cy="223.1" r="4.7"/>
<circle cx="317.8" cy="211.5" r="4.7"/>
<circle cx="318.7" cy="221.5" r="4.7"/>
<circle cx="319.6" cy="209.4" r="4.7"/>
<circle cx="320.5" cy="210.9" r="4.7"/>
<circle cx="321.3" cy="203.6" r="4.7"/>
<circle cx="322.2" cy="188.3" r="4.7"/>
<circle cx="323.1" cy="201.5" r="4.7"/>
<circle cx="324.0" cy="197.3" r="4.7"/>
<circle cx="324.8" cy="204.4" r="4.7"/>
<circle cx="325.7" cy="206.1" r="4.7"/>
<circle cx="326.6" cy="211.8" r="4.7"/>
<circle cx="327.5" cy="221.5" r="4.7"/>
<circle cx="328.4" cy="201.9" r="4.7"/>
<circle cx="329.2" cy="185.5" r="4.7"/>
<circle cx="330.1" cy="197.1" r="4.7"/>
<circle cx="331.0" cy="207.2" r="4.7"/>
<circle cx="331.9" cy="184.4" r="4.7"/>
<circle cx="332.7" cy="205.5" r="4.7"/>
<circle cx="333.6" cy="207.1" r="4.7"/>
<circle cx="334.5" cy="212.9" r="4.7"/>
<circle cx="335.4" cy="210.0" r="4.7"/>
<circle cx="336.2" cy="202.3" r="4.7"/>
<circle cx="337.1" cy="179.1" r="4.7"/>
<circle cx="338.0" cy="201.3" r="4.7"/>
<circle cx="338.9" cy="209.4" r="4.7"/>
<circle cx="339.8" cy="204.7" r="4.7"/>
<circle cx="340.6" cy="200.5" r="4.7"/>
<circle cx="341.5" cy="215.3" r="4.7"/>
<circle cx="342.4" cy="196.3" r="4.7"/>
<circle cx="343.3" cy="190.2" r="4.7"/>
<circle cx="344.1" cy="193.7" r="4.7"/>
<circle cx="345.0" cy="190.6" r="4.7"/>
<circle cx="345.9" cy="209.4" r="4.7"/>
<circle cx="346.8" cy="213.2" r="4.7"/>
<circle cx="347.7" cy="182.7" r="4.7"/>
<circle cx="348.5" cy="184.4" r="4.7"/>
<circle cx="349.4" cy="210.7" r="4.7"/>
<circle cx="350.3" cy="192.7" r="4.7"/>
<circle cx="351.2" cy="194.2" r="4.7"/>
<circle cx="352.0" cy="188.7" r="4.7"/>
<circle cx="352.9" cy="191.8" r="4.7"/>
<circle cx="353.8" cy="198.6" r="4.7"/>
<circle cx="354.7" cy="191.3" r="4.7"/>
<circle cx="355.5" cy="191.4" r="4.7"/>
<circle cx="356.4" cy="193.1" r="4.7"/>
<circle cx="357.3" cy="210.8" r="4.7"/>
<circle cx="358.2" cy="196.3" r="4.7"/>
<circle cx="359.1" cy="199.5" r="4.7"/>
<circle cx="359.9" cy="207.6" r="4.7"/>
<circle cx="360.8" cy="188.5" r="4.7"/>
<circle cx="361.7" cy="183.5" r="4.7"/>
<circle cx="362.6" cy="187.7" r="4.7"/>
<circle cx="363.4" cy="193.7" r="4.7"/>
<circle cx="364.3" cy="189.0" r="4.7"/>
<circle cx="365.2" cy="177.4" r="4.7"/>
<circle cx="366.1" cy="196.6" r="4.7"/>
<circle cx="367.0" cy="179.1" r="4.7"/>
<circle cx="367.8" cy="181.0" r="4.7"/>
<circle cx="368.7" cy="185.3" r="4.7"/>
<circle cx="369.6" cy="172.3" r="4.7"/>
<circle cx="370.5" cy="195.1" r="4.7"/>
<circle cx="371.3" cy="176.9" r="4.7"/>
<circle cx="372.2" cy="196.8" r="4.7"/>
<circle cx="373.1" cy="194.8" r="4.7"/>
<circle cx="374.0" cy="197.8" r="4.7"/>
<circle cx="374.8" cy="180.9" r="4.7"/>
<circle cx="375.7" cy="196.0" r="4.7"/>
<circle cx="376.6" cy="184.7" r="4.7"/>
<circle cx="377.5" cy="197.8" r="4.7"/>
<circle cx="378.4" cy="172.6" r="4.7"/>
<circle cx="379.2" cy="163.4" r="4.7"/>
<circle cx="380.1" cy="181.5" r="4.7"/>
<circle cx="381.0" cy="164.8" r="4.7"/>
<circle cx="381.9" cy="177.0" r="4.7"/>
<circle cx="382.7" cy="157.9" r="4.7"/>
<circle cx="383.6" cy="181.9" r="4.7"/>
<circle cx="384.5" cy="201.4" r="4.7"/>
<circle cx="385.4" cy="164.7" r="4.7"/>
<circle cx="386.2" cy="183.8" r="4.7"/>
<circle cx="387.1" cy="194.6" r="4.7"/>
<circle cx="388.0" cy="189.8" r="4.7"/>
<circle cx="388.9" cy="201.3" r="4.7"/>
<circle cx="389.8" cy="183.4" r="4.7"/>
<circle cx="390.6" cy="193.9" r="4.7"/>
<circle cx="391.5" cy="163.5" r="4.7"/>
<circle cx="392.4" cy="173.0" r="4.7"/>
<circle cx="393.3" cy="199.8" r="4.7"/>
<circle cx="394.1" cy="197.7" r="4.7"/>
<circle cx="395.0" cy="186.6" r="4.7"/>
<circle cx="395.9" cy="201.7" r="4.7"/>
<circle cx="396.8" cy="181.0" r="4.7"/>
<circle cx="397.7" cy="180.1" r="4.7"/>
<circle cx="398.5" cy="187.9" r="4.7"/>
<circle cx="399.4" cy="185.1" r="4.7"/>
<circle cx="400.3" cy="173.6" r="4.7"/>
<circle cx="401.2" cy="163.6" r="4.7"/>
<circle cx="402.0" cy="162.8" r="4.7"/>
<circle cx="402.9" cy="178.1" r="4.7"/>
<circle cx="403.8" cy="169.4" r="4.7"/>
<circle cx="404.7" cy="185.7" r="4.7"/>
<circle cx="405.5" cy="173.7" r="4.7"/>
<circle cx="406.4" cy="187.4" r="4.7"/>
<circle cx="407.3" cy="170.3" r="4.7"/>
<circle cx="408.2" cy="189.7" r="4.7"/>
<circle cx="409.1" cy="186.7" r="4.7"/>
<circle cx="409.9" cy="177.1" r="4.7"/>
<circle cx="410.8" cy="171.5" r="4.7"/>
<circle cx="411.7" cy="190.4" r="4.7"/>
<circle cx="412.6" cy="181.6" r="4.7"/>
<circle cx="413.4" cy="175.1" r="4.7"/>
<circle cx="414.3" cy="174.1" r="4.7"/>
<circle cx="415.2" cy="183.7" r="4.7"/>
<circle cx="416.1" cy="174.9" r="4.7"/>
<circle cx="417.0" cy="178.1" r="4.7"/>
<circle cx="417.8" cy="162.7" r="4.7"/>
<circle cx="418.7" cy="170.2" r="4.7"/>
<circle cx="419.6" cy="187.2" r="4.7"/>
<circle cx="420.5" cy="194.9" r="4.7"/>
<circle cx="421.3" cy="173.9" r="4.7"/>
<circle cx="422.2" cy="163.9" r="4.7"/>
<circle cx="423.1" cy="172.8" r="4.7"/>
<circle cx="424.0" cy="166.3" r="4.7"/>
<circle cx="424.8" cy="178.4" r="4.7"/>
<circle cx="425.7" cy="186.0" r="4.7"/>
<circle cx="426.6" cy="167.0" r="4.7"/>
<circle cx="427.5" cy="172.6" r="4.7"/>
<circle cx="428.4" cy="167.2" r="4.7"/>
<circle cx="429.2" cy="185.3" r="4.7"/>
<circle cx="430.1" cy="171.3" r="4.7"/>
<circle cx="431.0" cy="178.2" r="4.7"/>
<circle cx="431.9" cy="165.5" r="4.7"/>
<circle cx="432.7" cy="177.5" r="4.7"/>
<circle cx="433.6" cy="177.5" r="4.7"/>
<circle cx="434.5" cy="177.1" r="4.7"/>
<circle cx="435.4" cy="160.8" r="4.7"/>
<circle cx="436.3" cy="171.4" r="4.7"/>
<circle cx="437.1" cy="178.0" r="4.7"/>
<circle cx="438.0" cy="180.1" r="4.7"/>
<circle cx="438.9" cy="180.1" r="4.7"/>
<circle cx="439.8" cy="158.4" r="4.7"/>
<circle cx="440.6" cy="186.3" r="4.7"/>
<circle cx="441.5" cy="177.8" r="4.7"/>
<circle cx="442.4" cy="165.0" r="4.7"/>
<circle cx="443.3" cy="160.2" r="4.7"/>
<circle cx="444.1" cy="171.3" r="4.7"/>
<circle cx="445.0" cy="163.2" r="4.7"/>
<circle cx="445.9" cy="163.3" r="4.7"/>
<circle cx="446.8" cy="161.2" r="4.7"/>
<circle cx="447.7" cy="168.9" r="4.7"/>
<circle cx="448.5" cy="155.3" r="4.7"/>
<circle cx="449.4" cy="167.2" r="4.7"/>
<circle cx="450.3" cy="155.9" r="4.7"/>
<circle cx="451.2" cy="177.6" r="4.7"/>
<circle cx="452.0" cy="160.5" r="4.7"/>
<circle cx="452.9" cy="178.5" r="4.7"/>
<circle cx="453.8" cy="180.2" r="4.7"/>
<circle cx="454.7" cy="163.6" r="4.7"/>
<circle cx="455.5" cy="174.3" r="4.7"/>
<circle cx="456.4" cy="163.7" r="4.7"/>
<circle cx="457.3" cy="175.9" r="4.7"/>
<circle cx="458.2" cy="154.0" r="4.7"/>
<circle cx="459.1" cy="166.7" r="4.7"/>
<circle cx="459.9" cy="175.8" r="4.7"/>
<circle cx="460.8" cy="165.0" r="4.7"/>
<circle cx="461.7" cy="159.2" r="4.7"/>
<circle cx="462.6" cy="172.3" r="4.7"/>
<circle cx="463.4" cy="161.8" r="4.7"/>
<circle cx="464.3" cy="149.5" r="4.7"/>
<circle cx="465.2" cy="158.7" r="4.7"/>
<circle cx="466.1" cy="165.5" r="4.7"/>
<circle cx="467.0" cy="169.7" r="4.7"/>
<circle cx="467.8" cy="160.6" r="4.7"/>
<circle cx="468.7" cy="176.8" r="4.7"/>
<circle cx="469.6" cy="161.9" r="4.7"/>
<circle cx="470.5" cy="169.8" r="4.7"/>
<circle cx="471.3" cy="172.9" r="4.7"/>
<circle cx="472.2" cy="150.8" r="4.7"/>
<circle cx="473.1" cy="163.1" r="4.7"/>
<circle cx="474.0" cy="171.6" r="4.7"/>
<circle cx="474.8" cy="172.8" r="4.7"/>
<circle cx="475.7" cy="159.9" r="4.7"/>
<circle cx="476.6" cy="169.9" r="4.7"/>
<circle cx="477.5" cy="167.9" r="4.7"/>
<circle cx="478.4" cy="164.0" r="4.7"/>
<circle cx="479.2" cy="162.5" r="4.7"/>
<circle cx="480.1" cy="162.3" r="4.7"/>
<circle cx="481.0" cy="162.0" r="4.7"/>
<circle cx="481.9" cy="153.1" r="4.7"/>
<circle cx="482.7" cy="150.0" r="4.7"/>
<circle cx="483.6" cy="174.7" r="4.7"/>
<circle cx="484.5" cy="167.4" r="4.7"/>
<circle cx="485.4" cy="161.3" r="4.7"/>
<circle cx="486.3" cy="152.9" r="4.7"/>
<circle cx="487.1" cy="167.5" r="4.7"/>
<circle cx="488.0" cy="159.4" r="4.7"/>
<circle cx="488.9" cy="160.1" r="4.7"/>
<circle cx="489.8" cy="160.8" r="4.7"/>
<circle cx="490.6" cy="155.1" r="4.7"/>
<circle cx="491.5" cy="156.6" r="4.7"/>
<circle cx="492.4" cy="168.9" r="4.7"/>
<circle cx="493.3" cy="162.1" r="4.7"/>
<circle cx="494.1" cy="155.4" r="4.7"/>
<circle cx="495.0" cy="155.6" r="4.7"/>
<circle cx="495.9" cy="163.4" r="4.7"/>
<circle cx="496.8" cy="162.9" r="4.7"/>
<circle cx="497.7" cy="161.8" r="4.7"/>
<circle cx="498.5" cy="169.1" r="4.7"/>
<circle cx="499.4" cy="170.4" r="4.7"/>
<circle cx="500.3" cy="147.9" r="4.7"/>
<circle cx="501.2" cy="163.2" r="4.7"/>
<circle cx="502.0" cy="159.2" r="4.7"/>
<circle cx="502.9" cy="165.8" r="4.7"/>
<circle cx="503.8" cy="149.4" r="4.7"/>
<circle cx="504.7" cy="145.7" r="4.7"/>
<circle cx="505.5" cy="161.3" r="4.7"/>
<circle cx="506.4" cy="155.3" r="4.7"/>
<circle cx="507.3" cy="165.4" r="4.7"/>
<circle cx="508.2" cy="144.9" r="4.7"/>
<circle cx="509.1" cy="151.5" r="4.7"/>
<circle cx="509.9" cy="165.8" r="4.7"/>
<circle cx="510.8" cy="148.6" r="4.7"/>
<circle cx="511.7" cy="155.7" r="4.7"/>
<circle cx="512.6" cy="155.2" r="4.7"/>
<circle cx="513.4" cy="155.5" r="4.7"/>
<circle cx="514.3" cy="163.8" r="4.7"/>
<circle cx="515.2" cy="162.6" r="4.7"/>
<circle cx="516.1" cy="152.9" r="4.7"/>
<circle cx="517.0" cy="158.4" r="4.7"/>
<circle cx="517.8" cy="165.8" r="4.7"/>
<circle cx="518.7" cy="140.6" r="4.7"/>
<circle cx="519.6" cy="159.3" r="4.7"/>
<circle cx="520.5" cy="162.2" r="4.7"/>
<circle cx="521.3" cy="163.2" r="4.7"/>
<circle cx="522.2" cy="151.3" r="4.7"/>
<circle cx="523.1" cy="148.8" r="4.7"/>
<circle cx="524.0" cy="154.9" r="4.7"/>
<circle cx="524.8" cy="149.4" r="4.7"/>
<circle cx="525.7" cy="169.6" r="4.7"/>
<circle cx="526.6" cy="159.8" r="4.7"/>
<circle cx="527.5" cy="160.5" r="4.7"/>
<circle cx="528.4" cy="156.3" r="4.7"/>
<circle cx="529.2" cy="152.0" r="4.7"/>
<circle cx="530.1" cy="173.9" r="4.7"/>
<circle cx="531.0" cy="167.3" r="4.7"/>
<circle cx="531.9" cy="163.5" r="4.7"/>
<circle cx="532.7" cy="152.7" r="4.7"/>
<circle cx="533.6" cy="148.3" r="4.7"/>
<circle cx="534.5" cy="147.9" r="4.7"/>
<circle cx="535.4" cy="153.2" r="4.7"/>
<circle cx="536.3" cy="145.4" r="4.7"/>
<circle cx="537.1" cy="164.9" r="4.7"/>
<circle cx="538.0" cy="148.2" r="4.7"/>
<circle cx="538.9" cy="163.2" r="4.7"/>
<circle cx="539.8" cy="164.3" r="4.7"/>
<circle cx="540.6" cy="176.0" r="4.7"/>
<circle cx="541.5" cy="143.5" r="4.7"/>
<circle cx="542.4" cy="149.8" r="4.7"/>
<circle cx="543.3" cy="162.5" r="4.7"/>
<circle cx="544.1" cy="155.5" r="4.7"/>
<circle cx="545.0" cy="155.0" r="4.7"/>
<circle cx="228.5" cy="200.6" r="4.7"/>
<circle cx="225.0" cy="211.3" r="4.7"/>
<circle cx="233.9" cy="209.5" r="4.7"/>
<circle cx="246.3" cy="204.2" r="4.7"/>
<circle cx="271.2" cy="198.9" r="4.7"/>
<circle cx="246.3" cy="250.4" r="4.7"/>
<circle cx="178.8" cy="285.9" r="4.7"/>
<circle cx="191.2" cy="275.2" r="4.7"/>
<circle cx="207.2" cy="269.9" r="4.7"/>
<circle cx="138.0" cy="264.6" r="4.7"/>
<circle cx="129.0" cy="277.0" r="4.7"/>
<circle cx="264.0" cy="239.7" r="4.7"/>
<circle cx="274.7" cy="241.5" r="4.7"/>
<circle cx="335.8" cy="229.1" r="4.7"/>
<circle cx="313.7" cy="234.4" r="4.7"/>
<circle cx="287.0" cy="230.0" r="4.7"/>
<circle cx="294.0" cy="232.0" r="4.7"/>
<circle cx="368.8" cy="207.7" r="4.7"/>
<circle cx="379.5" cy="211.3" r="4.7"/>
<circle cx="436.3" cy="190.0" r="4.7"/>
<circle cx="459.9" cy="133.7" r="4.7"/>
<circle cx="406.6" cy="142.6" r="4.7"/>
<circle cx="388.9" cy="155.1" r="4.7"/>
<circle cx="374.7" cy="160.4" r="4.7"/>
<circle cx="497.2" cy="135.5" r="4.7"/>
<circle cx="541.6" cy="135.5" r="4.7"/>
<circle cx="495.4" cy="183.5" r="4.7"/>
<circle cx="496.1" cy="188.1" r="4.7"/>
<circle cx="543.4" cy="172.8" r="4.7"/>
<circle cx="516.7" cy="172.8" r="4.7"/>
<circle cx="378.2" cy="203.0" r="4.7"/>
<circle cx="380.0" cy="211.9" r="4.7"/>
<circle cx="369.3" cy="206.6" r="4.7"/>
<circle cx="435.0" cy="190.6" r="4.7"/>
<circle cx="411.4" cy="149.1" r="4.7"/>
<circle cx="363.5" cy="160.8" r="4.7"/>
<circle cx="375.2" cy="160.8" r="4.7"/>
</g>
<g fill="#00008b">
<circle cx="136.2" cy="168.6" r="4.7"/>
<circle cx="137.1" cy="170.6" r="4.7"/>
<circle cx="138.0" cy="162.2" r="4.7"/>
<circle cx="138.9" cy="165.2" r="4.7"/>
<circle cx="139.8" cy="153.6" r="4.7"/>
<circle cx="140.6" cy="170.3" r="4.7"/>
<circle cx="141.5" cy="174.7" r="4.7"/>
<circle cx="142.4" cy="153.8" r="4.7"/>
<circle cx="143.3" cy="147.7" r="4.7"/>
<circle cx="144.1" cy="156.4" r="4.7"/>
<circle cx="145.0" cy="160.3" r="4.7"/>
<circle cx="145.9" cy="148.1" r="4.7"/>
<circle cx="146.8" cy="146.9" r="4.7"/>
<circle cx="147.7" cy="131.7" r="4.7"/>
<circle cx="148.5" cy="136.1" r="4.7"/>
<circle cx="149.4" cy="139.4" r="4.7"/>
<circle cx="150.3" cy="129.5" r="4.7"/>
<circle cx="151.2" cy="139.8" r="4.7"/>
<circle cx="152.0" cy="144.6" r="4.7"/>
<circle cx="152.9" cy="129.8" r="4.7"/>
<circle cx="153.8" cy="128.5" r="4.7"/>
<circle cx="154.7" cy="134.0" r="4.7"/>
<circle cx="155.5" cy="137.6" r="4.7"/>
<circle cx="156.4" cy="127.6" r="4.7"/>
<circle cx="157.3" cy="123.8" r="4.7"/>
<circle cx="158.2" cy="121.2" r="4.7"/>
<circle cx="159.1" cy="121.7" r="4.7"/>
<circle cx="159.9" cy="138.2" r="4.7"/>
<circle cx="160.8" cy="122.9" r="4.7"/>
<circle cx="161.7" cy="130.2" r="4.7"/>
<circle cx="162.6" cy="114.8" r="4.7"/>
<circle cx="163.4" cy="136.9" r="4.7"/>
<circle cx="164.3" cy="126.5" r="4.7"/>
<circle cx="165.2" cy="111.9" r="4.7"/>
<circle cx="166.1" cy="107.2" r="4.7"/>
<circle cx="166.9" cy="133.7" r="4.7"/>
<circle cx="167.8" cy="118.9" r="4.7"/>
<circle cx="168.7" cy="111.1" r="4.7"/>
<circle cx="169.6" cy="117.9" r="4.7"/>
<circle cx="170.5" cy="98.7" r="4.7"/>
<circle cx="171.3" cy="120.9" r="4.7"/>
<circle cx="172.2" cy="107.2" r="4.7"/>
<circle cx="173.1" cy="118.0" r="4.7"/>
<circle cx="174.0" cy="96.8" r="4.7"/>
<circle cx="174.8" cy="107.8" r="4.7"/>
<circle cx="175.7" cy="109.9" r="4.7"/>
<circle cx="176.6" cy="120.3" r="4.7"/>
<circle cx="177.5" cy="91.3" r="4.7"/>
<circle cx="178.4" cy="98.2" r="4.7"/>
<circle cx="179.2" cy="97.5" r="4.7"/>
<circle cx="180.1" cy="93.5" r="4.7"/>
<circle cx="181.0" cy="99.3" r="4.7"/>
<circle cx="181.9" cy="106.8" r="4.7"/>
<circle cx="182.7" cy="107.4" r="4.7"/>
<circle cx="183.6" cy="106.7" r="4.7"/>
<circle cx="184.5" cy="88.1" r="4.7"/>
<circle cx="185.4" cy="110.9" r="4.7"/>
<circle cx="186.2" cy="103.0" r="4.7"/>
<circle cx="187.1" cy="100.1" r="4.7"/>
<circle cx="188.0" cy="95.0" r="4.7"/>
<circle cx="188.9" cy="91.4" r="4.7"/>
<circle cx="189.8" cy="106.0" r="4.7"/>
<circle cx="190.6" cy="109.4" r="4.7"/>
<circle cx="191.5" cy="94.5" r="4.7"/>
<circle cx="192.4" cy="83.9" r="4.7"/>
<circle cx="193.3" cy="87.1" r="4.7"/>
<circle cx="194.1" cy="91.1" r="4.7"/>
<circle cx="195.0" cy="95.0" r="4.7"/>
<circle cx="195.9" cy="89.5" r="4.7"/>
<circle cx="196.8" cy="93.5" r="4.7"/>
<circle cx="197.7" cy="84.3" r="4.7"/>
<circle cx="198.5" cy="97.1" r="4.7"/>
<circle cx="199.4" cy="89.1" r="4.7"/>
<circle cx="200.3" cy="90.6" r="4.7"/>
<circle cx="201.2" cy="85.0" r="4.7"/>
<circle cx="202.0" cy="87.1" r="4.7"/>
<circle cx="202.9" cy="85.9" r="4.7"/>
<circle cx="203.8" cy="76.2" r="4.7"/>
<circle cx="204.7" cy="75.9" r="4.7"/>
<circle cx="205.5" cy="103.5" r="4.7"/>
<circle cx="206.4" cy="89.7" r="4.7"/>
<circle cx="207.3" cy="91.4" r="4.7"/>
<circle cx="208.2" cy="82.1" r="4.7"/>
<circle cx="209.1" cy="103.6" r="4.7"/>
<circle cx="209.9" cy="76.5" r="4.7"/>
<circle cx="210.8" cy="77.0" r="4.7"/>
<circle cx="211.7" cy="94.9" r="4.7"/>
<circle cx="212.6" cy="92.0" r="4.7"/>
<circle cx="213.4" cy="90.3" r="4.7"/>
<circle cx="214.3" cy="83.6" r="4.7"/>
<circle cx="215.2" cy="78.8" r="4.7"/>
<circle cx="216.1" cy="67.9" r="4.7"/>
<circle cx="216.9" cy="84.5" r="4.7"/>
<circle cx="217.8" cy="77.0" r="4.7"/>
<circle cx="218.7" cy="81.2" r="4.7"/>
<circle cx="219.6" cy="69.1" r="4.7"/>
<circle cx="220.5" cy="76.4" r="4.7"/>
<circle cx="221.3" cy="71.5" r="4.7"/>
<circle cx="222.2" cy="89.1" r="4.7"/>
<circle cx="223.1" cy="82.4" r="4.7"/>
<circle cx="224.0" cy="86.6" r="4.7"/>
<circle cx="224.8" cy="69.7" r="4.7"/>
<circle cx="225.7" cy="75.5" r="4.7"/>
<circle cx="226.6" cy="82.1" r="4.7"/>
<circle cx="227.5" cy="82.9" r="4.7"/>
<circle cx="228.4" cy="76.1" r="4.7"/>
<circle cx="229.2" cy="84.2" r="4.7"/>
<circle cx="230.1" cy="85.5" r="4.7"/>
<circle cx="231.0" cy="75.5" r="4.7"/>
<circle cx="231.9" cy="67.0" r="4.7"/>
<circle cx="232.7" cy="80.0" r="4.7"/>
<circle cx="233.6" cy="81.9" r="4.7"/>
<circle cx="234.5" cy="85.9" r="4.7"/>
<circle cx="235.4" cy="86.8" r="4.7"/>
<circle cx="236.2" cy="74.0" r="4.7"/>
<circle cx="237.1" cy="71.6" r="4.7"/>
<circle cx="238.0" cy="77.1" r="4.7"/>
<circle cx="238.9" cy="74.7" r="4.7"/>
<circle cx="239.8" cy="76.0" r="4.7"/>
<circle cx="240.6" cy="75.7" r="4.7"/>
<circle cx="241.5" cy="86.6" r="4.7"/>
<circle cx="242.4" cy="79.3" r="4.7"/>
<circle cx="243.3" cy="75.3" r="4.7"/>
<circle cx="244.1" cy="81.1" r="4.7"/>
<circle cx="245.0" cy="78.9" r="4.7"/>
<circle cx="245.9" cy="81.0" r="4.7"/>
<circle cx="246.8" cy="77.7" r="4.7"/>
<circle cx="247.7" cy="69.6" r="4.7"/>
<circle cx="248.5" cy="77.8" r="4.7"/>
<circle cx="249.4" cy="76.0" r="4.7"/>
<circle cx="250.3" cy="69.4" r="4.7"/>
<circle cx="251.2" cy="70.4" r="4.7"/>
<circle cx="252.0" cy="63.3" r="4.7"/>
<circle cx="252.9" cy="88.3" r="4.7"/>
<circle cx="253.8" cy="68.6" r="4.7"/>
<circle cx="254.7" cy="77.3" r="4.7"/>
<circle cx="255.5" cy="73.1" r="4.7"/>
<circle cx="256.4" cy="68.3" r="4.7"/>
<circle cx="257.3" cy="66.5" r="4.7"/>
<circle cx="258.2" cy="66.6" r="4.7"/>
<circle cx="259.1" cy="72.4" r="4.7"/>
<circle cx="259.9" cy="62.6" r="4.7"/>
<circle cx="260.8" cy="75.0" r="4.7"/>
<circle cx="261.7" cy="73.9" r="4.7"/>
<circle cx="262.6" cy="67.5" r="4.7"/>
<circle cx="263.4" cy="76.3" r="4.7"/>
<circle cx="264.3" cy="58.1" r="4.7"/>
<circle cx="265.2" cy="65.6" r="4.7"/>
<circle cx="266.1" cy="57.7" r="4.7"/>
<circle cx="267.0" cy="72.2" r="4.7"/>
<circle cx="267.8" cy="74.4" r="4.7"/>
<circle cx="268.7" cy="70.6" r="4.7"/>
<circle cx="269.6" cy="66.6" r="4.7"/>
<circle cx="270.5" cy="75.2" r="4.7"/>
<circle cx="271.3" cy="68.6" r="4.7"/>
<circle cx="272.2" cy="71.1" r="4.7"/>
<circle cx="273.1" cy="60.1" r="4.7"/>
<circle cx="274.0" cy="75.0" r="4.7"/>
<circle cx="274.8" cy="63.5" r="4.7"/>
<circle cx="275.7" cy="74.5" r="4.7"/>
<circle cx="276.6" cy="76.4" r="4.7"/>
<circle cx="277.5" cy="74.6" r="4.7"/>
<circle cx="278.4" cy="77.6" r="4.7"/>
<circle cx="279.2" cy="68.5" r="4.7"/>
<circle cx="280.1" cy="62.5" r="4.7"/>
<circle cx="281.0" cy="68.0" r="4.7"/>
<circle cx="281.9" cy="64.8" r="4.7"/>
<circle cx="282.7" cy="57.9" r="4.7"/>
<circle cx="283.6" cy="66.8" r="4.7"/>
<circle cx="284.5" cy="67.1" r="4.7"/>
<circle cx="285.4" cy="70.0" r="4.7"/>
<circle cx="286.2" cy="78.6" r="4.7"/>
<circle cx="287.1" cy="62.7" r="4.7"/>
<circle cx="288.0" cy="79.3" r="4.7"/>
<circle cx="288.9" cy="63.1" r="4.7"/>
<circle cx="289.8" cy="67.3" r="4.7"/>
<circle cx="290.6" cy="59.6" r="4.7"/>
<circle cx="291.5" cy="67.3" r="4.7"/>
<circle cx="292.4" cy="72.1" r="4.7"/>
<circle cx="293.3" cy="64.1" r="4.7"/>
<circle cx="294.1" cy="70.0" r="4.7"/>
<circle cx="295.0" cy="67.4" r="4.7"/>
<circle cx="295.9" cy="65.7" r="4.7"/>
<circle cx="296.8" cy="66.7" r="4.7"/>
<circle cx="297.7" cy="66.9" r="4.7"/>
<circle cx="298.5" cy="71.0" r="4.7"/>
<circle cx="299.4" cy="66.6" r="4.7"/>
<circle cx="300.3" cy="79.4" r="4.7"/>
<circle cx="301.2" cy="66.1" r="4.7"/>
<circle cx="302.0" cy="72.8" r="4.7"/>
<circle cx="302.9" cy="57.3" r="4.7"/>
<circle cx="303.8" cy="56.2" r="4.7"/>
<circle cx="304.7" cy="77.4" r="4.7"/>
<circle cx="305.5" cy="63.4" r="4.7"/>
<circle cx="306.4" cy="65.1" r="4.7"/>
<circle cx="307.3" cy="71.1" r="4.7"/>
<circle cx="308.2" cy="60.5" r="4.7"/>
<circle cx="309.1" cy="66.9" r="4.7"/>
<circle cx="309.9" cy="75.5" r="4.7"/>
<circle cx="310.8" cy="65.4" r="4.7"/>
<circle cx="311.7" cy="64.5" r="4.7"/>
<circle cx="312.6" cy="62.7" r="4.7"/>
<circle cx="313.4" cy="71.4" r="4.7"/>
<circle cx="314.3" cy="59.1" r="4.7"/>
<circle cx="315.2" cy="58.1" r="4.7"/>
<circle cx="316.1" cy="70.5" r="4.7"/>
<circle cx="317.0" cy="67.2" r="4.7"/>
<circle cx="317.8" cy="63.2" r="4.7"/>
<circle cx="318.7" cy="66.3" r="4.7"/>
<circle cx="319.6" cy="50.9" r="4.7"/>
<circle cx="320.5" cy="61.0" r="4.7"/>
<circle cx="321.3" cy="69.0" r="4.7"/>
<circle cx="322.2" cy="67.4" r="4.7"/>
<circle cx="323.1" cy="62.4" r="4.7"/>
<circle cx="324.0" cy="46.7" r="4.7"/>
<circle cx="324.8" cy="63.0" r="4.7"/>
<circle cx="325.7" cy="60.9" r="4.7"/>
<circle cx="326.6" cy="58.2" r="4.7"/>
<circle cx="327.5" cy="61.8" r="4.7"/>
<circle cx="328.4" cy="46.3" r="4.7"/>
<circle cx="329.2" cy="64.9" r="4.7"/>
<circle cx="330.1" cy="56.3" r="4.7"/>
<circle cx="331.0" cy="60.1" r="4.7"/>
<circle cx="331.9" cy="57.0" r="4.7"/>
<circle cx="332.7" cy="68.8" r="4.7"/>
<circle cx="333.6" cy="49.2" r="4.7"/>
<circle cx="334.5" cy="61.7" r="4.7"/>
<circle cx="335.4" cy="60.5" r="4.7"/>
<circle cx="336.2" cy="66.9" r="4.7"/>
<circle cx="337.1" cy="65.5" r="4.7"/>
<circle cx="338.0" cy="56.8" r="4.7"/>
<circle cx="338.9" cy="53.9" r="4.7"/>
<circle cx="339.8" cy="55.4" r="4.7"/>
<circle cx="340.6" cy="52.3" r="4.7"/>
<circle cx="341.5" cy="55.5" r="4.7"/>
<circle cx="342.4" cy="60.0" r="4.7"/>
<circle cx="343.3" cy="54.5" r="4.7"/>
<circle cx="344.1" cy="56.1" r="4.7"/>
<circle cx="345.0" cy="60.6" r="4.7"/>
<circle cx="345.9" cy="55.1" r="4.7"/>
<circle cx="346.8" cy="51.3" r="4.7"/>
<circle cx="347.7" cy="58.2" r="4.7"/>
<circle cx="348.5" cy="62.1" r="4.7"/>
<circle cx="349.4" cy="54.9" r="4.7"/>
<circle cx="350.3" cy="47.0" r="4.7"/>
<circle cx="351.2" cy="61.0" r="4.7"/>
<circle cx="352.0" cy="60.1" r="4.7"/>
<circle cx="352.9" cy="60.4" r="4.7"/>
<circle cx="353.8" cy="51.3" r="4.7"/>
<circle cx="354.7" cy="71.6" r="4.7"/>
<circle cx="355.5" cy="56.9" r="4.7"/>
<circle cx="356.4" cy="51.3" r="4.7"/>
<circle cx="357.3" cy="64.6" r="4.7"/>
<circle cx="358.2" cy="49.3" r="4.7"/>
<circle cx="359.1" cy="55.6" r="4.7"/>
<circle cx="359.9" cy="62.7" r="4.7"/>
<circle cx="360.8" cy="57.6" r="4.7"/>
<circle cx="361.7" cy="69.1" r="4.7"/>
<circle cx="362.6" cy="62.7" r="4.7"/>
<circle cx="363.4" cy="46.7" r="4.7"/>
<circle cx="364.3" cy="64.7" r="4.7"/>
<circle cx="365.2" cy="46.5" r="4.7"/>
<circle cx="366.1" cy="59.2" r="4.7"/>
<circle cx="367.0" cy="52.0" r="4.7"/>
<circle cx="367.8" cy="58.3" r="4.7"/>
<circle cx="368.7" cy="73.4" r="4.7"/>
<circle cx="369.6" cy="62.3" r="4.7"/>
<circle cx="370.5" cy="57.1" r="4.7"/>
<circle cx="371.3" cy="65.9" r="4.7"/>
<circle cx="372.2" cy="67.1" r="4.7"/>
<circle cx="373.1" cy="55.8" r="4.7"/>
<circle cx="374.0" cy="62.3" r="4.7"/>
<circle cx="374.8" cy="68.9" r="4.7"/>
<circle cx="375.7" cy="62.3" r="4.7"/>
<circle cx="376.6" cy="52.5" r="4.7"/>
<circle cx="377.5" cy="60.8" r="4.7"/>
<circle cx="378.4" cy="51.9" r="4.7"/>
<circle cx="379.2" cy="48.2" r="4.7"/>
<circle cx="380.1" cy="57.3" r="4.7"/>
<circle cx="381.0" cy="64.3" r="4.7"/>
<circle cx="381.9" cy="65.2" r="4.7"/>
<circle cx="382.7" cy="57.4" r="4.7"/>
<circle cx="383.6" cy="51.9" r="4.7"/>
<circle cx="384.5" cy="55.4" r="4.7"/>
<circle cx="385.4" cy="53.7" r="4.7"/>
<circle cx="386.2" cy="59.4" r="4.7"/>
<circle cx="387.1" cy="55.0" r="4.7"/>
<circle cx="388.0" cy="59.3" r="4.7"/>
<circle cx="388.9" cy="58.3" r="4.7"/>
<circle cx="389.8" cy="63.7" r="4.7"/>
<circle cx="390.6" cy="65.1" r="4.7"/>
<circle cx="391.5" cy="58.8" r="4.7"/>
<circle cx="392.4" cy="62.2" r="4.7"/>
<circle cx="393.3" cy="61.2" r="4.7"/>
<circle cx="394.1" cy="52.2" r="4.7"/>
<circle cx="395.0" cy="56.3" r="4.7"/>
<circle cx="395.9" cy="54.7" r="4.7"/>
<circle cx="396.8" cy="50.7" r="4.7"/>
<circle cx="397.7" cy="58.8" r="4.7"/>
<circle cx="398.5" cy="51.3" r="4.7"/>
<circle cx="399.4" cy="53.5" r="4.7"/>
<circle cx="400.3" cy="58.8" r="4.7"/>
<circle cx="401.2" cy="49.5" r="4.7"/>
<circle cx="402.0" cy="59.1" r="4.7"/>
<circle cx="402.9" cy="56.4" r="4.7"/>
<circle cx="403.8" cy="50.9" r="4.7"/>
<circle cx="404.7" cy="58.0" r="4.7"/>
<circle cx="405.5" cy="47.3" r="4.7"/>
<circle cx="406.4" cy="58.0" r="4.7"/>
<circle cx="407.3" cy="60.6" r="4.7"/>
<circle cx="408.2" cy="46.8" r="4.7"/>
<circle cx="409.1" cy="59.9" r="4.7"/>
<circle cx="409.9" cy="53.5" r="4.7"/>
<circle cx="410.8" cy="47.2" r="4.7"/>
<circle cx="411.7" cy="53.8" r="4.7"/>
<circle cx="412.6" cy="54.7" r="4.7"/>
<circle cx="413.4" cy="53.7" r="4.7"/>
<circle cx="414.3" cy="50.0" r="4.7"/>
<circle cx="415.2" cy="58.1" r="4.7"/>
<circle cx="416.1" cy="51.0" r="4.7"/>
<circle cx="417.0" cy="51.2" r="4.7"/>
<circle cx="417.8" cy="42.5" r="4.7"/>
<circle cx="418.7" cy="55.5" r="4.7"/>
<circle cx="419.6" cy="58.2" r="4.7"/>
<circle cx="420.5" cy="50.2" r="4.7"/>
<circle cx="421.3" cy="55.6" r="4.7"/>
<circle cx="422.2" cy="52.2" r="4.7"/>
<circle cx="423.1" cy="52.9" r="4.7"/>
<circle cx="424.0" cy="47.9" r="4.7"/>
<circle cx="424.8" cy="56.6" r="4.7"/>
<circle cx="425.7" cy="53.8" r="4.7"/>
<circle cx="426.6" cy="51.9" r="4.7"/>
<circle cx="427.5" cy="57.5" r="4.7"/>
<circle cx="428.4" cy="46.0" r="4.7"/>
<circle cx="429.2" cy="56.4" r="4.7"/>
<circle cx="430.1" cy="56.4" r="4.7"/>
<circle cx="431.0" cy="58.8" r="4.7"/>
<circle cx="431.9" cy="50.3" r="4.7"/>
<circle cx="432.7" cy="52.1" r="4.7"/>
<circle cx="433.6" cy="58.4" r="4.7"/>
<circle cx="434.5" cy="49.8" r="4.7"/>
<circle cx="435.4" cy="51.6" r="4.7"/>
<circle cx="436.3" cy="49.3" r="4.7"/>
<circle cx="437.1" cy="55.6" r="4.7"/>
<circle cx="438.0" cy="44.7" r="4.7"/>
<circle cx="438.9" cy="50.7" r="4.7"/>
<circle cx="439.8" cy="53.1" r="4.7"/>
<circle cx="440.6" cy="54.8" r="4.7"/>
<circle cx="441.5" cy="53.5" r="4.7"/>
<circle cx="442.4" cy="48.5" r="4.7"/>
<circle cx="443.3" cy="53.5" r="4.7"/>
<circle cx="444.1" cy="47.5" r="4.7"/>
<circle cx="445.0" cy="49.7" r="4.7"/>
<circle cx="445.9" cy="46.2" r="4.7"/>
<circle cx="446.8" cy="48.5" r="4.7"/>
<circle cx="447.7" cy="52.4" r="4.7"/>
<circle cx="448.5" cy="60.4" r="4.7"/>
<circle cx="449.4" cy="50.7" r="4.7"/>
<circle cx="450.3" cy="48.5" r="4.7"/>
<circle cx="451.2" cy="51.2" r="4.7"/>
<circle cx="452.0" cy="49.4" r="4.7"/>
<circle cx="452.9" cy="53.8" r="4.7"/>
<circle cx="453.8" cy="53.4" r="4.7"/>
<circle cx="454.7" cy="55.8" r="4.7"/>
<circle cx="455.5" cy="45.8" r="4.7"/>
<circle cx="456.4" cy="50.9" r="4.7"/>
<circle cx="457.3" cy="53.7" r="4.7"/>
<circle cx="458.2" cy="57.2" r="4.7"/>
<circle cx="459.1" cy="52.1" r="4.7"/>
<circle cx="459.9" cy="45.3" r="4.7"/>
<circle cx="460.8" cy="49.4" r="4.7"/>
<circle cx="461.7" cy="54.4" r="4.7"/>
<circle cx="462.6" cy="45.3" r="4.7"/>
<circle cx="463.4" cy="45.3" r="4.7"/>
<circle cx="464.3" cy="47.1" r="4.7"/>
<circle cx="465.2" cy="47.9" r="4.7"/>
<circle cx="466.1" cy="46.3" r="4.7"/>
<circle cx="467.0" cy="48.8" r="4.7"/>
<circle cx="467.8" cy="47.8" r="4.7"/>
<circle cx="468.7" cy="54.1" r="4.7"/>
<circle cx="469.6" cy="44.8" r="4.7"/>
<circle cx="470.5" cy="49.9" r="4.7"/>
<circle cx="471.3" cy="42.6" r="4.7"/>
<circle cx="472.2" cy="59.0" r="4.7"/>
<circle cx="473.1" cy="47.9" r="4.7"/>
<circle cx="474.0" cy="46.7" r="4.7"/>
<circle cx="474.8" cy="52.0" r="4.7"/>
<circle cx="475.7" cy="48.8" r="4.7"/>
<circle cx="476.6" cy="47.6" r="4.7"/>
<circle cx="477.5" cy="48.2" r="4.7"/>
<circle cx="478.4" cy="52.6" r="4.7"/>
<circle cx="479.2" cy="51.0" r="4.7"/>
<circle cx="480.1" cy="46.3" r="4.7"/>
<circle cx="481.0" cy="45.3" r="4.7"/>
<circle cx="481.9" cy="49.9" r="4.7"/>
<circle cx="482.7" cy="49.9" r="4.7"/>
<circle cx="483.6" cy="49.4" r="4.7"/>
<circle cx="484.5" cy="46.1" r="4.7"/>
<circle cx="485.4" cy="54.2" r="4.7"/>
<circle cx="486.3" cy="55.2" r="4.7"/>
<circle cx="487.1" cy="49.5" r="4.7"/>
<circle cx="488.0" cy="54.2" r="4.7"/>
<circle cx="488.9" cy="52.1" r="4.7"/>
<circle cx="489.8" cy="49.5" r="4.7"/>
<circle cx="490.6" cy="48.0" r="4.7"/>
<circle cx="491.5" cy="53.8" r="4.7"/>
<circle cx="492.4" cy="46.7" r="4.7"/>
<circle cx="493.3" cy="56.4" r="4.7"/>
<circle cx="494.1" cy="47.6" r="4.7"/>
<circle cx="495.0" cy="55.5" r="4.7"/>
<circle cx="495.9" cy="54.3" r="4.7"/>
<circle cx="496.8" cy="47.1" r="4.7"/>
<circle cx="497.7" cy="51.0" r="4.7"/>
<circle cx="498.5" cy="52.4" r="4.7"/>
<circle cx="499.4" cy="51.0" r="4.7"/>
<circle cx="500.3" cy="47.6" r="4.7"/>
<circle cx="501.2" cy="49.5" r="4.7"/>
<circle cx="502.0" cy="49.3" r="4.7"/>
<circle cx="502.9" cy="45.3" r="4.7"/>
<circle cx="503.8" cy="51.8" r="4.7"/>
<circle cx="504.7" cy="50.8" r="4.7"/>
<circle cx="505.5" cy="51.0" r="4.7"/>
<circle cx="506.4" cy="44.8" r="4.7"/>
<circle cx="507.3" cy="45.4" r="4.7"/>
<circle cx="508.2" cy="44.3" r="4.7"/>
<circle cx="509.1" cy="49.0" r="4.7"/>
<circle cx="509.9" cy="49.4" r="4.7"/>
<circle cx="510.8" cy="45.8" r="4.7"/>
<circle cx="511.7" cy="50.2" r="4.7"/>
<circle cx="512.6" cy="45.8" r="4.7"/>
<circle cx="513.4" cy="46.1" r="4.7"/>
<circle cx="514.3" cy="51.1" r="4.7"/>
<circle cx="515.2" cy="48.9" r="4.7"/>
<circle cx="516.1" cy="49.0" r="4.7"/>
<circle cx="517.0" cy="42.5" r="4.7"/>
<circle cx="517.8" cy="50.0" r="4.7"/>
<circle cx="518.7" cy="48.8" r="4.7"/>
<circle cx="519.6" cy="48.4" r="4.7"/>
<circle cx="520.5" cy="56.2" r="4.7"/>
<circle cx="521.3" cy="47.6" r="4.7"/>
<circle cx="522.2" cy="48.3" r="4.7"/>
<circle cx="523.1" cy="51.9" r="4.7"/>
<circle cx="524.0" cy="45.5" r="4.7"/>
<circle cx="524.8" cy="53.5" r="4.7"/>
<circle cx="525.7" cy="48.9" r="4.7"/>
<circle cx="526.6" cy="47.6" r="4.7"/>
<circle cx="527.5" cy="52.3" r="4.7"/>
<circle cx="528.4" cy="45.2" r="4.7"/>
<circle cx="529.2" cy="44.5" r="4.7"/>
<circle cx="530.1" cy="52.6" r="4.7"/>
<circle cx="531.0" cy="52.6" r="4.7"/>
<circle cx="531.9" cy="45.9" r="4.7"/>
<circle cx="532.7" cy="47.9" r="4.7"/>
<circle cx="533.6" cy="51.8" r="4.7"/>
<circle cx="534.5" cy="48.7" r="4.7"/>
<circle cx="535.4" cy="48.1" r="4.7"/>
<circle cx="536.3" cy="48.1" r="4.7"/>
<circle cx="537.1" cy="45.0" r="4.7"/>
<circle cx="538.0" cy="46.4" r="4.7"/>
<circle cx="538.9" cy="41.9" r="4.7"/>
<circle cx="539.8" cy="43.1" r="4.7"/>
<circle cx="540.6" cy="45.3" r="4.7"/>
<circle cx="541.5" cy="44.0" r="4.7"/>
<circle cx="542.4" cy="43.2" r="4.7"/>
<circle cx="543.3" cy="45.2" r="4.7"/>
<circle cx="544.1" cy="51.2" r="4.7"/>
<circle cx="545.0" cy="44.6" r="4.7"/>
<circle cx="106.5" cy="308.8" r="4.7"/>
<circle cx="111.8" cy="307.9" r="4.7"/>
<circle cx="111.8" cy="298.2" r="4.7"/>
<circle cx="115.4" cy="288.4" r="4.7"/>
<circle cx="114.5" cy="273.4" r="4.7"/>
<circle cx="112.7" cy="263.6" r="4.7"/>
<circle cx="117.2" cy="264.5" r="4.7"/>
<circle cx="112.7" cy="252.1" r="4.7"/>
<circle cx="118.0" cy="248.5" r="4.7"/>
<circle cx="133.1" cy="174.8" r="4.7"/>
<circle cx="127.8" cy="184.5" r="4.7"/>
<circle cx="134.9" cy="188.1" r="4.7"/>
<circle cx="135.8" cy="193.4" r="4.7"/>
<circle cx="126.9" cy="196.0" r="4.7"/>
<circle cx="131.3" cy="199.6" r="4.7"/>
<circle cx="130.5" cy="204.9" r="4.7"/>
<circle cx="121.6" cy="217.3" r="4.7"/>
<circle cx="122.5" cy="221.8" r="4.7"/>
<circle cx="118.9" cy="225.3" r="4.7"/>
<circle cx="118.9" cy="229.7" r="4.7"/>
<circle cx="126.0" cy="235.0" r="4.7"/>
<circle cx="120.7" cy="236.0" r="4.7"/>
<circle cx="107.3" cy="309.6" r="4.7"/>
<circle cx="212.0" cy="103.5" r="4.7"/>
<circle cx="265.0" cy="83.6" r="4.7"/>
<circle cx="307.9" cy="78.2" r="4.7"/>
<circle cx="247.5" cy="55.5" r="4.7"/>
<circle cx="329.2" cy="69.3" r="4.7"/>
<circle cx="347.0" cy="69.3" r="4.7"/>
<circle cx="371.5" cy="72.0" r="4.7"/>
<circle cx="166.6" cy="95.7" r="4.7"/>
<circle cx="164.5" cy="147.7" r="4.7"/>
<circle cx="381.8" cy="65.7" r="4.7"/>
<circle cx="151.8" cy="163.7" r="4.7"/>
<circle cx="149.5" cy="157.5" r="4.7"/>
</g>
</g>
<rect x="89.8" y="0.3" width="473.6" height="321.2" fill="none" stroke="#000" stroke-width="1.35"/>
<g stroke="#000" stroke-width="1.2"><line x1="107.3" y1="321.5" x2="107.3" y2="333.7"/><line x1="195.0" y1="321.5" x2="195.0" y2="333.7"/><line x1="282.7" y1="321.5" x2="282.7" y2="333.7"/><line x1="370.5" y1="321.5" x2="370.5" y2="333.7"/><line x1="458.2" y1="321.5" x2="458.2" y2="333.7"/><line x1="545.9" y1="321.5" x2="545.9" y2="333.7"/><line x1="77.8" y1="309.6" x2="89.8" y2="309.6"/><line x1="77.8" y1="250.1" x2="89.8" y2="250.1"/><line x1="77.8" y1="190.6" x2="89.8" y2="190.6"/><line x1="77.8" y1="131.2" x2="89.8" y2="131.2"/><line x1="77.8" y1="71.7" x2="89.8" y2="71.7"/><line x1="77.8" y1="12.2" x2="89.8" y2="12.2"/></g>
<g font-size="19px" fill="#000" stroke="#000" stroke-width="0.3"><text x="107.3" y="363" text-anchor="middle">0.0</text><text x="195.0" y="363" text-anchor="middle">0.1</text><text x="282.7" y="363" text-anchor="middle">0.2</text><text x="370.5" y="363" text-anchor="middle">0.3</text><text x="458.2" y="363" text-anchor="middle">0.4</text><text x="545.9" y="363" text-anchor="middle">0.5</text><text transform="translate(62.8,309.6) rotate(-90)" text-anchor="middle">0.0</text><text transform="translate(62.8,250.1) rotate(-90)" text-anchor="middle">0.2</text><text transform="translate(62.8,190.6) rotate(-90)" text-anchor="middle">0.4</text><text transform="translate(62.8,131.2) rotate(-90)" text-anchor="middle">0.6</text><text transform="translate(62.8,71.7) rotate(-90)" text-anchor="middle">0.8</text><text transform="translate(62.8,12.2) rotate(-90)" text-anchor="middle">1.0</text></g>
<g font-size="22px" fill="#000" stroke="#000" stroke-width="0.35">
<text x="326.8" y="408.1" text-anchor="middle" textLength="191.5" lengthAdjust="spacing">Sampling effort (%)</text>
<text transform="translate(16.4,160.6) rotate(-90)" text-anchor="middle" textLength="224.5" lengthAdjust="spacing">Probability of detection</text>
</g>
</svg>
</body></html>
